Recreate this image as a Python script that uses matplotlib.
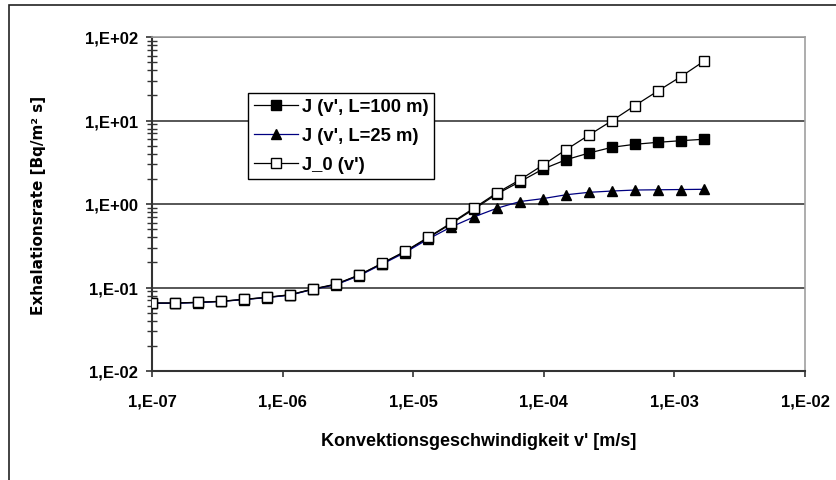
import matplotlib
matplotlib.use("Agg")
import matplotlib.pyplot as plt
from matplotlib.patches import Rectangle
from matplotlib.ticker import FixedLocator, NullFormatter, LogLocator

# ---------------- data ----------------
v = [1.0e-7, 1.5e-7, 2.25e-7, 3.38e-7, 5.06e-7, 7.59e-7, 1.14e-6, 1.71e-6,
     2.56e-6, 3.84e-6, 5.77e-6, 8.65e-6, 1.30e-5, 1.95e-5, 2.92e-5, 4.38e-5,
     6.57e-5, 9.85e-5, 1.48e-4, 2.22e-4, 3.33e-4, 4.99e-4, 7.48e-4, 1.12e-3,
     1.68e-3]

J_100 = [0.0650, 0.0650, 0.0663, 0.0682, 0.0720, 0.0760, 0.0815, 0.0955,
         0.109, 0.140, 0.193, 0.268, 0.392, 0.580, 0.870, 1.32, 1.85, 2.62,
         3.39, 4.08, 4.78, 5.19, 5.48, 5.73, 5.96]

J_25 = [0.0648, 0.0648, 0.0660, 0.0680, 0.0717, 0.0757, 0.0810, 0.0950,
        0.108, 0.138, 0.190, 0.262, 0.380, 0.530, 0.700, 0.890, 1.07, 1.16,
        1.29, 1.38, 1.43, 1.47, 1.48, 1.49, 1.50]

J_0 = [0.0652, 0.0652, 0.0665, 0.0684, 0.0722, 0.0763, 0.0820, 0.0960,
       0.110, 0.141, 0.195, 0.271, 0.399, 0.592, 0.895, 1.36, 1.95, 2.93,
       4.47, 6.70, 9.95, 15.1, 22.6, 33.5, 51.2]

labels = ["J (v', L=100 m)", "J (v', L=25 m)", "J_0 (v')"]

x_ticks = [1e-7, 1e-6, 1e-5, 1e-4, 1e-3, 1e-2]
x_ticklabels = ["1,E-07", "1,E-06", "1,E-05", "1,E-04", "1,E-03", "1,E-02"]
y_ticks = [1e-2, 1e-1, 1e0, 1e1, 1e2]
y_ticklabels = ["1,E-02", "1,E-01", "1,E+00", "1,E+01", "1,E+02"]

xlabel = "Konvektionsgeschwindigkeit v' [m/s]"
ylabel = "Exhalationsrate [Bq/m² s]"

# ---------------- figure ----------------
plt.rcParams['font.family'] = ['Liberation Sans', 'DejaVu Sans']
W, H = 837, 481
fig = plt.figure(figsize=(W / 100, H / 100), dpi=100)
fig.patch.set_facecolor('white')

L, R, T, B = 152, 805, 38, 372
ax = fig.add_axes([L / W, 1 - B / H, (R - L) / W, (B - T) / H])
ax.set_xscale('log')
ax.set_yscale('log')
ax.set_xlim(1e-7, 1e-2)
ax.set_ylim(1e-2, 1e2)

# gridlines (horizontal major only)
ax.yaxis.grid(True, which='major', color='#3a3a3a', linewidth=1.2)
ax.xaxis.grid(False)
ax.set_axisbelow(True)

ax.plot(v, J_100, color='black', linewidth=0.9, marker='s', markersize=6.5,
        markerfacecolor='black', markeredgecolor='black', label=labels[0], zorder=3)
ax.plot(v, J_25, color='#000080', linewidth=0.9, marker='^', markersize=7.5,
        markerfacecolor='black', markeredgecolor='black', label=labels[1], zorder=4)
ax.plot(v, J_0, color='black', linewidth=0.9, marker='s', markersize=6.5,
        markerfacecolor='white', markeredgecolor='black', markeredgewidth=1.0,
        label=labels[2], zorder=5)

# ticks
ax.xaxis.set_major_locator(FixedLocator(x_ticks))
ax.set_xticklabels(x_ticklabels)
ax.xaxis.set_minor_locator(FixedLocator([]))
ax.yaxis.set_major_locator(FixedLocator(y_ticks))
ax.set_yticklabels(y_ticklabels)
ax.yaxis.set_minor_locator(LogLocator(base=10, subs=[2, 3, 4, 5, 6, 7, 8, 9], numticks=20))
ax.yaxis.set_minor_formatter(NullFormatter())

ax.tick_params(axis='x', which='major', direction='out', length=4.5, width=1.2,
               color='#333333', pad=12, labelsize=12)
ax.tick_params(axis='y', which='major', direction='out', length=4, width=1.2,
               color='#333333', pad=6, labelsize=12)
ax.tick_params(axis='y', which='minor', direction='inout', length=7, width=1.0,
               color='#333333')
for lab in ax.get_xticklabels() + ax.get_yticklabels():
    lab.set_fontweight('bold')

# spines
for s in ['left', 'bottom']:
    ax.spines[s].set_color('#333333')
    ax.spines[s].set_linewidth(1.5)
for s in ['top', 'right']:
    ax.spines[s].set_color('#a0a0a0')
    ax.spines[s].set_linewidth(1.2)

# legend
leg = ax.legend(loc='upper left', bbox_to_anchor=((248 - L) / (R - L), (B - 94) / (B - T)),
                borderaxespad=0, frameon=True, fancybox=False, framealpha=1,
                edgecolor='black', handlelength=2.4,
                handletextpad=0.25, labelspacing=0.65, borderpad=0.3,
                prop={'weight': 'bold', 'size': 13.2})
leg.get_frame().set_linewidth(1.0)
leg.set_zorder(10)

# axis labels
fig.text((L + R) / 2 / W, 1 - 442 / H, xlabel, ha='center', va='center',
         fontsize=13, fontweight='bold')
fig.text(39 / W, 1 - 205 / H, ylabel, ha='center', va='center', rotation=90,
         fontsize=11, fontweight='bold', family='DejaVu Sans')

# outer chart frame
fig.add_artist(Rectangle((9 / W, -0.1), 1.2, (H - 6) / H + 0.1,
                         transform=fig.transFigure, fill=False,
                         edgecolor='#222222', linewidth=1.2))

fig.savefig('out.png', dpi=100)
